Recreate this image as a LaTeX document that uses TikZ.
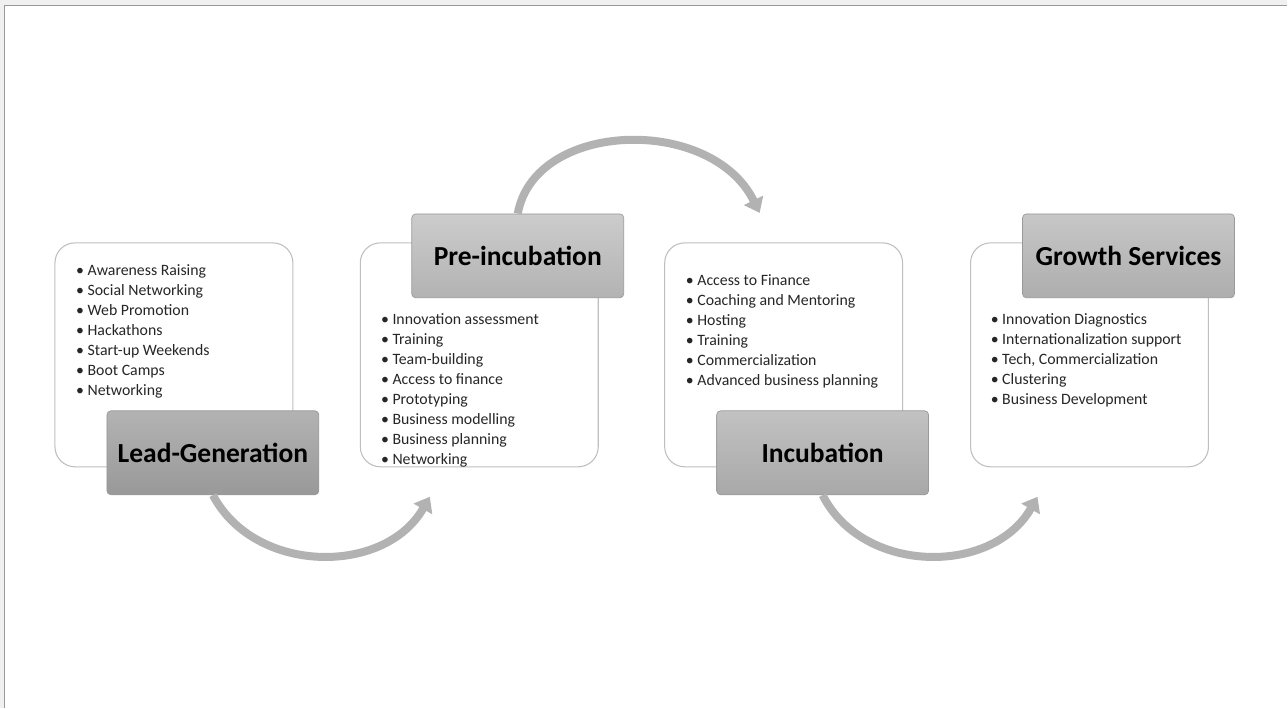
\documentclass[tikz,border=0pt]{standalone}
\usepackage{fontspec}
\setmainfont{Carlito}
\usetikzlibrary{arrows.meta}

\tikzset{
  panel/.style={draw=black!25, line width=0.9pt, fill=white, rounded corners=0.6cm, minimum width=7.14cm, minimum height=6.72cm},
  stage/.style={draw=black!40, line width=0.6pt, rounded corners=0.12cm, minimum width=6.36cm, minimum height=2.52cm, font=\fontsize{23.5}{28}\selectfont\bfseries},
  item/.style={anchor=base west, inner sep=0pt, text=black!85, font=\fontsize{13.5}{16}\selectfont},
  flow/.style={draw=black!30, line width=0.24cm, -{Triangle[width=0.62cm,length=0.42cm]}},
}

\begin{document}
\begin{tikzpicture}[x=0.03cm, y=-0.03cm]
	% frame
	\fill[black!6] (0,0) rectangle (1288,708);
	\fill[white] (4.5,5.5) rectangle (1288,708);
	\draw[black!40, line width=1pt] (4.5,708) -- (4.5,5.5) -- (1288,5.5);
	\useasboundingbox (0,0) rectangle (1288,708);

	% panels
	\node[panel] (lgbox) at (174,355) {};
	\node[panel] (prebox) at (479.5,355) {};
	\node[panel] (incbox) at (784,355) {};
	\node[panel] (growbox) at (1090,355) {};

	% lists
	\foreach \t [count=\i from 0] in {Awareness Raising, Social Networking, Web Promotion, Hackathons, Start-up Weekends, Boot Camps, Networking}
		\node[item] (lg\i) at (76,276+20*\i) {\textbullet\ \t};
	\foreach \t [count=\i from 0] in {Innovation assessment, Training, Team-building, Access to finance, Prototyping, Business modelling, Business planning, Networking}
		\node[item] (pre\i) at (381,325+20*\i) {\textbullet\ \t};
	\foreach \t [count=\i from 0] in {Access to Finance, Coaching and Mentoring, Hosting, Training, Commercialization, Advanced business planning}
		\node[item] (inc\i) at (686,286+20*\i) {\textbullet\ \t};
	\foreach \t [count=\i from 0] in {Innovation Diagnostics, Internationalization support, {Tech, Commercialization}, Clustering, Business Development}
		\node[item] (grow\i) at (991,325+20*\i) {\textbullet\ \t};

	% stage titles
	\node[stage, top color=black!30, bottom color=black!40] (lg) at (213,453) {Lead-Generation};
	\node[stage, top color=black!20, bottom color=black!30] (pre) at (518,256) {Pre-incubation};
	\node[stage, top color=black!24, bottom color=black!34] (inc) at (823,453) {Incubation};
	\node[stage, top color=black!22, bottom color=black!32] (grow) at (1129,256) {Growth Services};

	% arrows
	\coordinate (lgend) at (430,497);
	\coordinate (preend) at (760,213);
	\coordinate (incend) at (1038,497);
	\draw[flow] (lg.south) .. controls (255,575) and (385,576) .. (lgend);
	\draw[flow] (pre.north) .. controls (535,120) and (712,115) .. (preend);
	\draw[flow] (inc.south) .. controls (863,575) and (993,576) .. (incend);
\end{tikzpicture}
\end{document}
